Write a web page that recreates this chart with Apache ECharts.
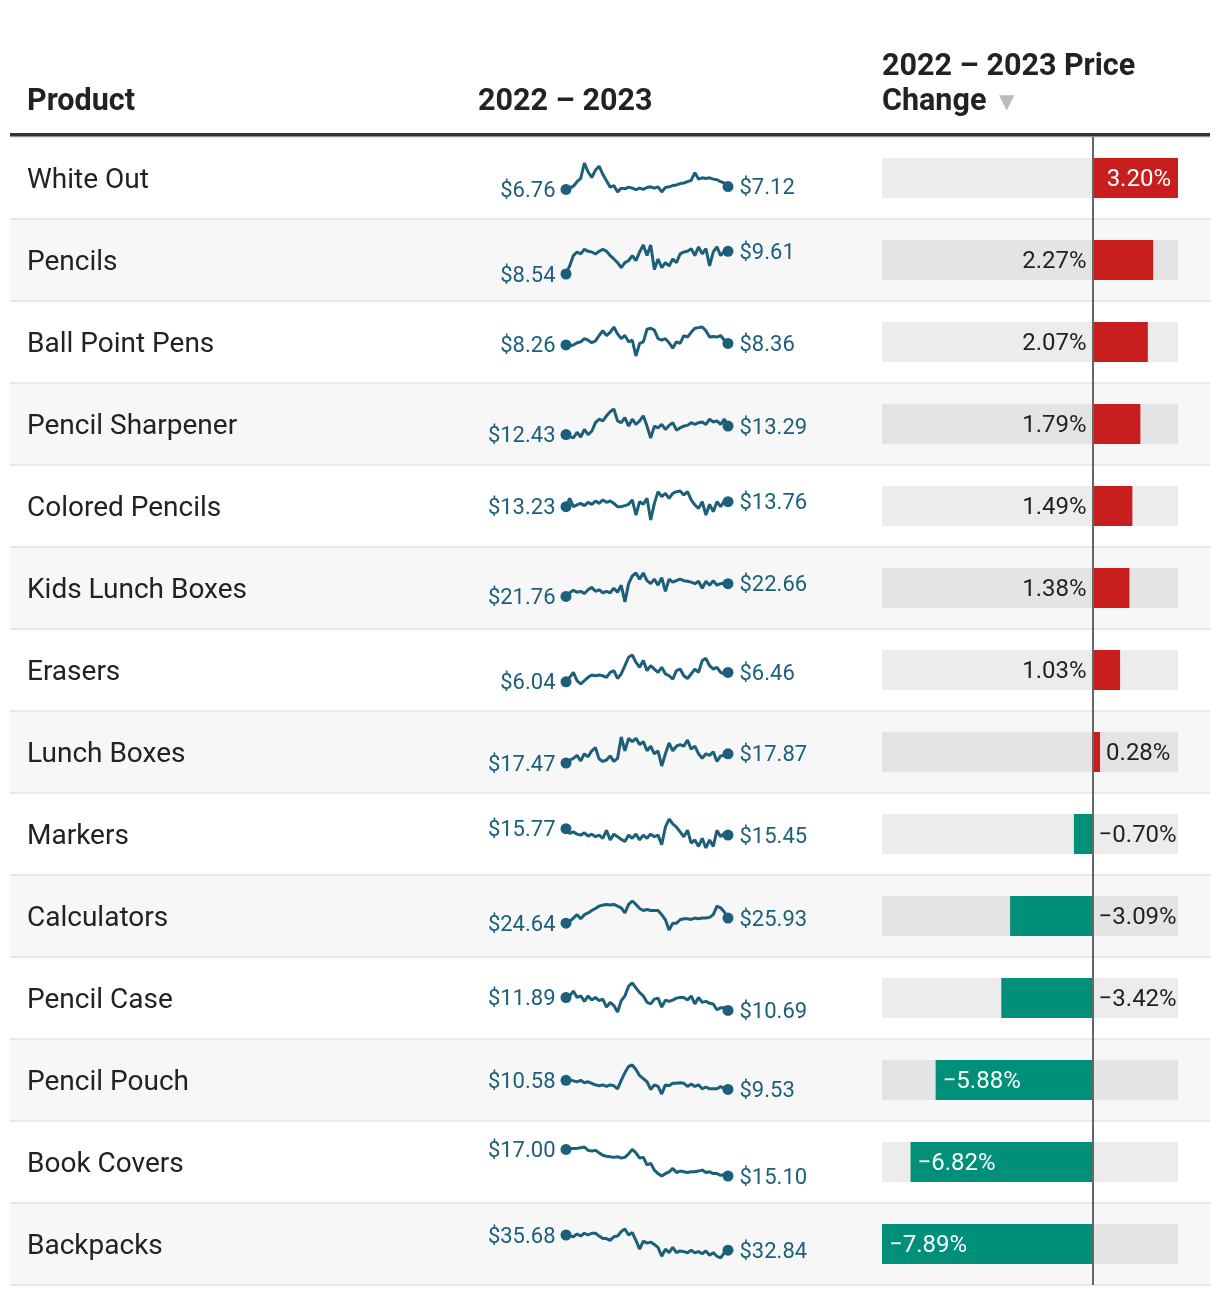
<!DOCTYPE html>
<html>
<head>
<meta charset="utf-8">
<script src="https://cdn.jsdelivr.net/npm/echarts@6/dist/echarts.min.js"></script>
<style>
html,body{margin:0;padding:0;background:#fff;}
#chart{width:1220px;height:1294px;}
</style>
</head>
<body>
<div id="chart"></div>
<script>
const products = ['White Out','Pencils','Ball Point Pens','Pencil Sharpener','Colored Pencils','Kids Lunch Boxes','Erasers','Lunch Boxes','Markers','Calculators','Pencil Case','Pencil Pouch','Book Covers','Backpacks'];
const priceChange = [3.20, 2.27, 2.07, 1.79, 1.49, 1.38, 1.03, 0.28, -0.70, -3.09, -3.42, -5.88, -6.82, -7.89];

const whiteOut = [6.76,6.92,7.16,7.72,8.12,10.04,8.92,8.24,9.16,9.64,8.64,7.84,7.04,7.24,6.44,6.92,6.84,7.04,6.92,6.72,6.92,6.76,7.00,7.08,6.92,7.08,6.44,7.00,7.08,7.24,7.32,7.48,7.56,7.72,7.88,8.84,8.04,8.20,8.12,8.20,8.04,7.96,7.72,7.56,7.12];
const pencils = [8.54,8.92,9.41,9.58,9.49,9.71,9.61,9.58,9.49,9.61,9.71,9.61,9.41,9.25,9.08,8.84,9.08,9.17,9.41,9.17,9.58,9.91,9.41,9.91,8.75,9.25,8.84,9.08,8.92,9.25,9.08,9.49,9.58,9.61,9.74,9.41,9.82,9.49,9.74,8.92,9.58,9.82,9.41,9.61,9.61];
const ballPointPens = [8.26,8.20,8.26,8.40,8.46,8.66,8.56,8.40,8.52,8.86,9.16,8.86,9.06,9.40,8.96,8.66,8.86,8.46,8.56,7.56,8.36,8.46,9.26,9.32,9.20,8.66,8.56,8.66,8.40,8.06,8.46,8.36,8.86,8.76,9.06,9.32,9.36,9.40,9.16,8.76,8.80,8.76,8.86,8.56,8.36];
const pencilSharpener = [12.43,12.26,12.09,12.67,12.19,12.95,12.43,12.77,13.63,13.98,13.81,14.32,14.73,15.01,13.81,13.63,14.15,13.29,13.98,13.46,13.81,14.32,13.29,12.09,13.29,13.12,13.46,12.95,13.36,13.63,12.88,13.12,13.29,13.36,13.63,13.46,13.63,13.70,13.46,13.98,13.70,13.81,13.46,13.98,13.29];
const coloredPencils = [13.23,14.11,13.23,13.41,13.58,13.34,13.69,13.48,13.83,13.58,13.94,13.69,13.83,13.58,13.23,13.23,13.34,13.48,13.94,12.35,13.76,13.48,14.11,11.82,13.58,14.82,14.29,14.64,14.11,14.64,14.82,14.89,14.47,14.82,13.94,13.41,13.05,13.76,12.35,13.48,12.70,13.76,13.23,13.83,13.76];
const kidsLunchBoxes = [21.76,22.02,22.19,22.06,22.12,21.97,22.23,22.40,22.12,22.23,22.02,22.12,22.02,22.34,22.06,22.55,21.37,22.66,23.20,23.41,22.98,23.41,22.87,22.66,22.98,22.55,23.09,22.12,22.98,22.77,22.87,22.98,22.87,22.83,22.77,22.66,22.83,22.34,22.83,22.55,22.87,22.55,22.66,22.70,22.66];
const erasers = [6.04,6.24,6.46,6.09,5.94,6.09,6.24,6.34,6.31,6.34,6.31,6.24,6.46,6.54,6.19,6.39,6.76,7.14,7.24,6.91,6.69,6.99,6.54,6.76,6.61,6.46,6.69,6.39,6.31,6.16,6.54,6.61,6.31,6.19,6.39,6.61,6.46,6.99,7.09,6.76,6.61,6.69,6.46,6.39,6.46];
const lunchBoxes = [17.47,17.60,17.67,17.80,17.56,17.87,17.74,18.00,18.14,17.64,17.54,17.60,17.78,17.54,17.67,18.60,18.00,18.54,18.40,18.54,18.27,18.40,18.00,18.20,17.87,18.00,17.34,17.87,18.34,18.00,18.20,18.27,18.20,18.47,18.07,18.20,17.87,17.67,17.87,17.80,17.96,17.54,17.78,17.80,17.87];
const markers = [15.77,15.53,15.61,15.50,15.45,15.56,15.40,15.50,15.37,15.45,15.29,15.69,15.21,15.50,15.37,15.24,15.13,15.45,15.29,15.50,15.21,15.45,15.29,15.50,15.37,15.45,14.97,15.85,16.25,16.01,15.85,15.61,15.37,15.69,15.05,15.21,14.89,15.29,14.81,15.21,14.89,15.69,15.37,15.53,15.45];
const calculators = [24.64,25.07,25.93,26.79,25.76,26.79,27.22,27.82,28.34,28.94,29.20,29.37,29.20,29.37,28.94,28.51,27.22,29.37,30.23,29.37,28.34,27.82,28.08,27.82,27.82,27.82,26.79,25.50,22.92,24.64,24.64,25.50,25.76,25.76,25.59,25.93,25.76,25.93,25.93,26.10,26.79,28.94,28.51,27.48,25.93];
const pencilCase = [11.89,12.04,12.49,11.89,12.04,11.53,12.04,11.65,11.89,11.59,11.74,10.99,11.44,11.14,10.54,11.59,12.04,12.94,13.24,12.79,12.34,12.04,11.44,11.29,11.74,11.83,10.99,11.65,11.53,11.65,11.83,11.89,11.89,11.65,12.04,11.29,11.89,11.44,11.53,11.35,11.29,10.75,10.93,10.93,10.69];
const pencilPouch = [10.58,10.65,10.51,10.41,10.58,10.30,10.41,10.23,10.06,9.95,10.06,9.88,10.06,9.95,9.60,10.58,11.46,12.16,12.33,11.81,11.11,10.76,10.41,9.53,10.06,9.88,9.01,10.06,9.95,10.23,10.23,10.30,10.23,9.88,10.16,9.88,10.06,9.60,9.81,9.60,9.60,9.60,9.88,9.60,9.53];
const bookCovers = [17.00,17.07,17.07,17.07,17.12,17.17,16.93,16.88,16.93,16.75,16.58,16.51,16.48,16.43,16.48,16.38,16.43,16.68,17.00,16.75,16.38,16.43,15.89,16.01,15.52,15.27,15.10,15.27,15.40,15.64,15.35,15.45,15.40,15.35,15.40,15.40,15.45,15.52,15.35,15.40,15.27,15.27,15.15,15.20,15.10];
const backpacks = [35.68,35.48,35.35,35.88,35.48,36.01,35.68,36.01,36.01,35.48,35.02,35.02,34.69,35.35,35.48,36.34,36.80,35.68,36.14,34.69,33.04,34.56,34.16,34.36,33.90,33.37,31.72,33.04,32.38,33.37,32.38,32.71,32.58,32.38,32.84,32.38,32.58,32.18,32.71,31.92,32.38,31.72,31.39,32.38,32.84];

const priceSeries = [whiteOut, pencils, ballPointPens, pencilSharpener, coloredPencils, kidsLunchBoxes, erasers, lunchBoxes, markers, calculators, pencilCase, pencilPouch, bookCovers, backpacks];

const headerProduct = 'Product';
const headerTrend = '2022 – 2023';
const headerChange1 = '2022 – 2023 Price';
const headerChange2 = 'Change';

// ---- layout ----
const FONT = 'Roboto';
const TOP = 137, ROW = 82, N = products.length;
const SPARK = '#1b5f7a';
const RED = '#c81e1e', GREEN = '#00907a';
const minChange = Math.min(...priceChange), maxChange = Math.max(...priceChange);

const grids = [
  {left: 10, width: 1200, top: TOP, height: ROW * N},
  {left: 882, width: 296, top: TOP, height: ROW * N}
];
const xAxes = [
  {gridIndex: 0, type: 'value', min: 0, max: 1, show: false},
  {gridIndex: 1, type: 'value', min: minChange, max: maxChange, show: false}
];
const yAxes = [
  {gridIndex: 0, type: 'category', data: products, inverse: true,
   axisLine: {show: false}, axisTick: {show: false},
   axisLabel: {inside: true, margin: 17, fontSize: 28, color: '#222', fontFamily: FONT,
               formatter: v => '{a|' + v + '}',
               rich: {a: {fontSize: 28, color: '#222', fontFamily: FONT, padding: [6, 0, 0, 0]}}},
   splitArea: {show: true, areaStyle: {color: ['#ffffff', '#f7f7f7']}},
   splitLine: {show: true, lineStyle: {color: '#e9e9e9', width: 2}}},
  {gridIndex: 1, type: 'category', data: products, inverse: true, show: false}
];

const series = [];

const pctText = v => (v < 0 ? '\u2212' + Math.abs(v).toFixed(2) : v.toFixed(2)) + '%';

series.push({
  type: 'bar', xAxisIndex: 1, yAxisIndex: 1, barWidth: 40, silent: true,
  showBackground: true, backgroundStyle: {color: 'rgba(0,0,0,0.075)'},
  label: {show: true, fontSize: 24, fontFamily: FONT, distance: 6},
  data: priceChange.map(v => {
    let pos, inside;
    if (v >= 0) {
      if (v / maxChange > 0.9) { pos = 'insideRight'; inside = true; }
      else if (v < 0.5) { pos = 'right'; inside = false; }
      else { pos = 'left'; inside = false; }
    } else {
      if (v / minChange > 0.6) { pos = 'insideLeft'; inside = true; }
      else { pos = 'right'; inside = false; }
    }
    const c = inside ? '#fff' : '#222';
    return {value: v, itemStyle: {color: v >= 0 ? RED : GREEN},
            label: {position: pos, distance: inside ? 7 : 6,
                    formatter: '{a|' + pctText(v) + '}',
                    rich: {a: {fontSize: 24, fontFamily: FONT, color: c, padding: [4, 0, 0, 0]}}}};
  }),
  markLine: {silent: true, symbol: 'none', label: {show: false},
             lineStyle: {color: '#666', width: 2, type: 'solid'},
             data: [{xAxis: 0}]},
  z: 3
});

priceSeries.forEach((vals, i) => {
  const gi = grids.length;
  grids.push({left: 566, width: 162, top: TOP + ROW * i + 26, height: 29});
  xAxes.push({gridIndex: gi, type: 'category', boundaryGap: false, show: false});
  yAxes.push({gridIndex: gi, type: 'value', min: 'dataMin', max: 'dataMax', scale: true, show: false});
  const last = vals.length - 1;
  series.push({
    type: 'line', xAxisIndex: gi, yAxisIndex: gi, clip: false, silent: true,
    symbol: 'circle', showSymbol: true, showAllSymbol: true,
    symbolSize: (v, p) => (p.dataIndex === 0 || p.dataIndex === last) ? 11 : 0,
    lineStyle: {width: 3, color: SPARK}, itemStyle: {color: SPARK},
    label: {show: false, fontSize: 22, fontFamily: FONT, color: SPARK,
            formatter: p => '{a|$' + p.value.toFixed(2) + '}',
            rich: {a: {fontSize: 22, fontFamily: FONT, color: SPARK, padding: [4, 0, 0, 0]}}},
    data: vals.map((v, j) => {
      if (j === 0) return {value: v, label: {show: true, position: 'left', distance: 5}};
      if (j === last) return {value: v, label: {show: true, position: 'right', distance: 6}};
      return v;
    }),
    z: 4
  });
});

const hdr = {fontSize: 30.5, fontWeight: 'bold', fontFamily: FONT, fill: '#222', verticalAlign: 'middle'};
const option = {
  animation: false,
  grid: grids, xAxis: xAxes, yAxis: yAxes, series: series,
  graphic: [
    {type: 'text', x: 27, y: 102, style: Object.assign({text: headerProduct}, hdr), z: 10},
    {type: 'text', x: 478, y: 102, style: Object.assign({text: headerTrend}, hdr), z: 10},
    {type: 'text', x: 882, y: 67, style: Object.assign({text: headerChange1}, hdr), z: 10},
    {type: 'text', x: 882, y: 102, style: Object.assign({text: headerChange2}, hdr), z: 10},
    {type: 'text', x: 999, y: 103, style: {text: '▼', fontSize: 20, fontFamily: 'DejaVu Sans', fill: '#bbb', verticalAlign: 'middle'}, z: 10},
    {type: 'rect', shape: {x: 10, y: 133, width: 1200, height: 3.5}, style: {fill: '#333'}, z: 10}
  ]
};

const chart = echarts.init(document.getElementById('chart'), null, {renderer: 'canvas'});
chart.setOption(option);
</script>
</body>
</html>
